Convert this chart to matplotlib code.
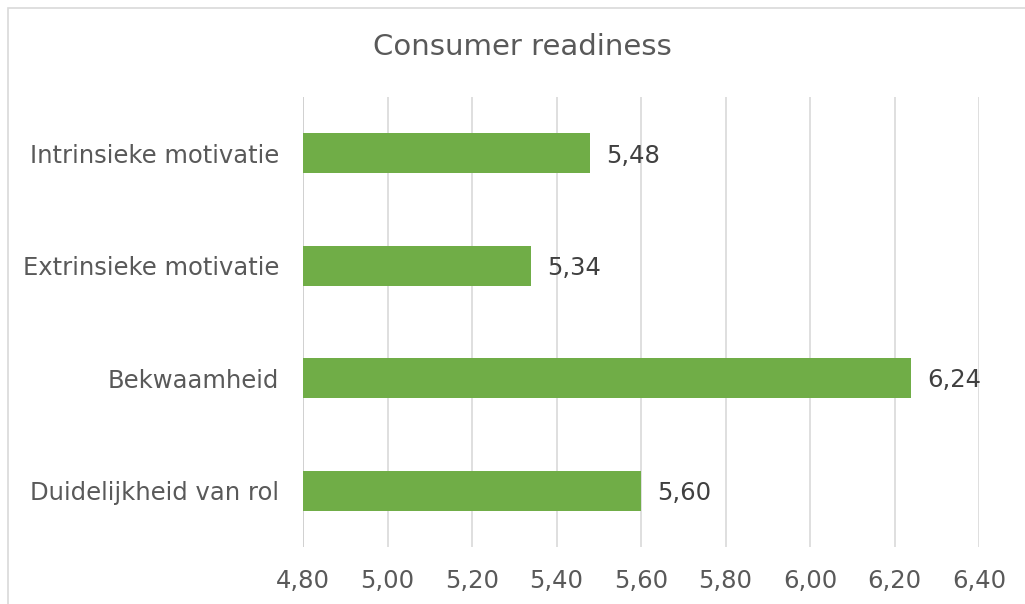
import matplotlib
matplotlib.use("Agg")
import matplotlib.pyplot as plt
from matplotlib.patches import Rectangle

categories = ["Duidelijkheid van rol", "Bekwaamheid", "Extrinsieke motivatie", "Intrinsieke motivatie"]
values = [5.60, 6.24, 5.34, 5.48]
xticks = [4.80, 5.00, 5.20, 5.40, 5.60, 5.80, 6.00, 6.20, 6.40]
title = "Consumer readiness"

def fmt(v):
    return f"{v:.2f}".replace(".", ",")

text_col = "#595959"
fs = 17.5
fig = plt.figure(figsize=(10.25, 6.04), dpi=100)
ax = fig.add_axes([303/1025, 1-547/604, (979-303)/1025, (547-97)/604])

ax.barh(range(len(categories)), [v - xticks[0] for v in values], left=xticks[0],
        height=0.355, color="#70AD47", zorder=3)
for i, v in enumerate(values):
    ax.text(v + 0.038, i - 0.02, fmt(v), va="center", ha="left", fontsize=fs,
            color="#404040", family="DejaVu Sans")

ax.set_xlim(xticks[0], xticks[-1])
ax.set_ylim(-0.5, len(categories) - 0.5)
ax.set_xticks(xticks)
ax.set_xticklabels([fmt(t) for t in xticks], fontsize=fs, color=text_col, family="DejaVu Sans")
ax.set_yticks(range(len(categories)))
ax.set_yticklabels(categories, fontsize=fs, color=text_col, family="DejaVu Sans")
ax.tick_params(axis="both", length=0)
ax.tick_params(axis="x", pad=16)
ax.tick_params(axis="y", pad=17)
ax.grid(axis="x", color="#D9D9D9", linewidth=1.2, zorder=0)
for s in ax.spines.values():
    s.set_visible(False)
ax.axvline(xticks[0], color="#CFCFCF", linewidth=1.2, zorder=2)

fig.text(522/1025, 1-47/604, title, ha="center", va="center", fontsize=21,
         color=text_col, family="DejaVu Sans")

fig.patches.append(Rectangle((8/1025, -0.1), 1.2, 1-8/604+0.1, transform=fig.transFigure,
                             fill=False, edgecolor="#D9D9D9", linewidth=1.2))

fig.savefig("out.png", dpi=100)
